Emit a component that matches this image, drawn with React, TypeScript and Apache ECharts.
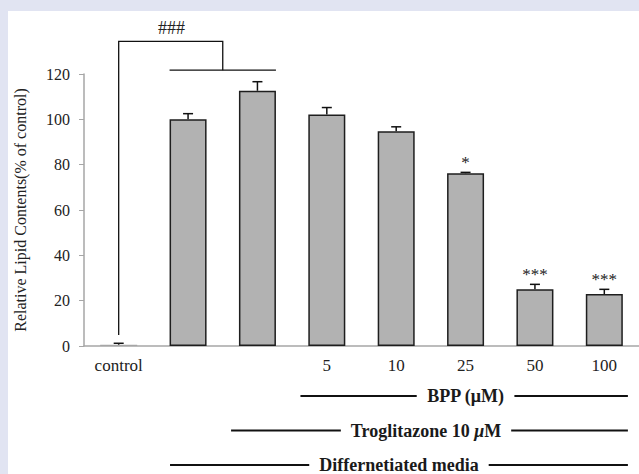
import React, { useEffect, useRef } from 'react';
import * as echarts from 'echarts';

const categories = ['control', '', '', '5', '10', '25', '50', '100'];
const lipidValues = [0.5, 100, 112.6, 102.1, 94.7, 76.2, 25, 22.9];
const errorValues = [0.7, 2.5, 4, 3.1, 2, 0.4, 2.2, 2.1];
const significance = ['', '', '', '', '', '*', '***', '***'];
const yMin = 0;
const yMax = 120;
const yInterval = 20;

// "###" bracket: control vs differentiated media (values in % units, x in category index)
const bracketLabel = '###';
const bracketFootValue = 4.9;
const bracketTopValue = 134.4;
const bracketLowValue = 121.7;
const bracketLabelValue = 140.5;

// treatment rows under the axis
const groupLabels = ['BPP (\u03bcM)', 'Troglitazone 10 {i|\u03bc}M', 'Differnetiated media'];
const groupStart = [2.62, 1.62, 0.74];
const groupLabelAt = [5.0, 4.43, 4.04];
const groupEnd = 7.34;

const SERIF = '"Liberation Serif", "Times New Roman", serif';

export default function App() {
  const ref = useRef<HTMLDivElement>(null);
  useEffect(() => {
    document.body.style.margin = '0';
    const chart = echarts.init(ref.current!, null, { renderer: 'svg' });
    const xAt = (api: any, f: number) => api.coord([0, 0])[0] + f * api.size([1, 0])[0];

    chart.setOption({
      animation: false,
      backgroundColor: '#e1e4f2',
      graphic: [
        { type: 'rect', shape: { x: 8, y: 11, width: 640, height: 470 }, style: { fill: '#ffffff' }, z: -10, silent: true },
      ],
      grid: { left: 84, right: -9, top: 74, bottom: 128 },
      xAxis: {
        type: 'category',
        data: categories,
        axisLine: { lineStyle: { color: '#a6a6a6', width: 1.5 } },
        axisTick: { show: false },
        axisLabel: { fontFamily: SERIF, fontSize: 17, color: '#222', margin: 11, interval: 0 },
      },
      yAxis: {
        type: 'value',
        min: yMin,
        max: yMax,
        interval: yInterval,
        name: 'Relative Lipid Contents(% of control)',
        nameLocation: 'middle',
        nameGap: 56,
        nameTextStyle: { fontFamily: SERIF, fontSize: 16, color: '#222' },
        axisLine: { show: true, lineStyle: { color: '#a6a6a6', width: 1.5 } },
        axisTick: { show: true, length: 5, lineStyle: { color: '#a6a6a6' } },
        splitLine: { show: false },
        axisLabel: { fontFamily: SERIF, fontSize: 16, color: '#222', margin: 14 },
      },
      series: [
        {
          type: 'bar',
          barWidth: 37,
          data: lipidValues.map((v) =>
            v < 1
              ? { value: v, itemStyle: { borderWidth: 0, color: '#a6a6a6' } }
              : v
          ),
          itemStyle: { color: '#b2b2b2', borderColor: '#1e1e1e', borderWidth: 1.5 },
        },
        {
          type: 'custom',
          clip: false,
          data: lipidValues.map((v, i) => [i, v, errorValues[i]]),
          encode: { x: 0, y: 1 },
          renderItem: (params: any, api: any) => {
            const i = api.value(0);
            const v = api.value(1);
            const e = api.value(2);
            const b = api.coord([i, v]);
            const t = api.coord([i, v + e]);
            const cap = 5;
            const st = { stroke: '#111', lineWidth: 1.5 };
            return {
              type: 'group',
              children: [
                { type: 'line', shape: { x1: b[0], y1: b[1], x2: t[0], y2: t[1] }, style: st },
                { type: 'line', shape: { x1: t[0] - cap, y1: t[1], x2: t[0] + cap, y2: t[1] }, style: st },
              ],
            };
          },
        },
        {
          type: 'custom',
          clip: false,
          data: lipidValues.map((v, i) => [i, v + errorValues[i], significance[i]]),
          encode: { x: 0, y: 1 },
          renderItem: (params: any, api: any) => {
            const idx = params.dataIndex;
            const p = api.coord([api.value(0), api.value(1)]);
            return {
              type: 'text',
              x: p[0],
              y: p[1] - 10,
              style: {
                text: significance[idx],
                fontFamily: SERIF,
                fontSize: 17,
                fill: '#222',
                align: 'center',
                verticalAlign: 'middle',
              },
            };
          },
        },
        {
          type: 'custom',
          clip: false,
          data: [[0, bracketTopValue]],
          encode: { x: 0, y: 1 },
          renderItem: (params: any, api: any) => {
            const yFoot = api.coord([0, bracketFootValue])[1];
            const yTop = api.coord([0, bracketTopValue])[1];
            const yLow = api.coord([0, bracketLowValue])[1];
            const yLab = api.coord([0, bracketLabelValue])[1];
            const x0 = xAt(api, 0);
            const xMid = xAt(api, 1.5);
            const half = 18.5 / api.size([1, 0])[0];
            const xL = xAt(api, 1 - half);
            const xR = xAt(api, 2 + half);
            const st = { stroke: '#111', lineWidth: 1.3, fill: null };
            return {
              type: 'group',
              children: [
                { type: 'polyline', shape: { points: [[x0, yFoot], [x0, yTop], [xMid, yTop], [xMid, yLow]] }, style: st },
                { type: 'line', shape: { x1: xL, y1: yLow, x2: xR, y2: yLow }, style: st },
                {
                  type: 'text',
                  x: xAt(api, 0.76),
                  y: yLab,
                  style: { text: bracketLabel, fontFamily: SERIF, fontSize: 18, fill: '#222', align: 'center', verticalAlign: 'middle' },
                },
              ],
            };
          },
        },
        {
          type: 'custom',
          clip: false,
          data: groupLabels.map((_, r) => [r, 0]),
          encode: { x: 0, y: 1 },
          renderItem: (params: any, api: any) => {
            const r = params.dataIndex;
            const y0 = api.coord([0, 0])[1];
            const y = y0 + 50 + r * 34.5;
            const x1 = xAt(api, groupStart[r]);
            const x2 = xAt(api, groupEnd);
            const xl = xAt(api, groupLabelAt[r]);
            return {
              type: 'group',
              children: [
                { type: 'line', shape: { x1, y1: y, x2, y2: y }, style: { stroke: '#111', lineWidth: 2 } },
                {
                  type: 'text',
                  x: xl,
                  y: y,
                  z2: 10,
                  style: {
                    text: groupLabels[r],
                    fontFamily: SERIF,
                    fontSize: 18,
                    fontWeight: 'bold',
                    fill: '#1a1a1a',
                    align: 'center',
                    verticalAlign: 'middle',
                    backgroundColor: '#ffffff',
                    padding: [0, 10],
                    rich: { i: { fontStyle: 'italic', fontFamily: SERIF, fontSize: 18, fontWeight: 'bold', fill: '#1a1a1a' } },
                  },
                },
              ],
            };
          },
        },
      ],
    });
    return () => chart.dispose();
  }, []);
  return <div ref={ref} style={{ width: 639, height: 474 }} />;
}
